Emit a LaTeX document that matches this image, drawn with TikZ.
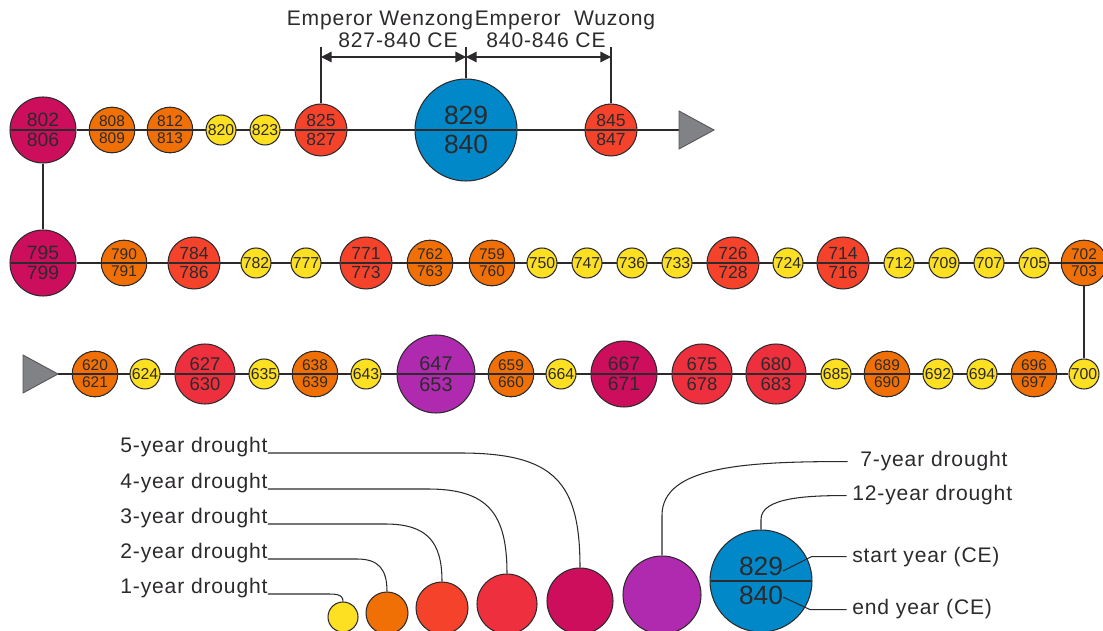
\documentclass[tikz,border=0pt]{standalone}
\usepackage{fontspec}
\setmainfont{Liberation Sans}
\newfontfamily\labfont[LetterSpace=4]{Liberation Sans}
\usetikzlibrary{arrows.meta,shapes.multipart,backgrounds}

\definecolor{dyellow}{RGB}{253,224,34}
\definecolor{dorange}{RGB}{240,112,5}
\definecolor{dredor}{RGB}{245,67,43}
\definecolor{dred}{RGB}{238,48,62}
\definecolor{dcrimson}{RGB}{204,14,93}
\definecolor{dpurple}{RGB}{176,42,176}
\definecolor{dblue}{RGB}{0,136,200}
\definecolor{tgray}{RGB}{128,130,134}
\definecolor{ink}{RGB}{45,42,45}

\tikzset{
  yr/.style={circle, draw=ink, line width=0.6pt, inner sep=0pt, text=ink},
  yrs/.style={circle split, draw=ink, line width=0.6pt, inner sep=1.5pt, text=ink},
  s1/.style={minimum size=0.6cm},
  s2/.style={minimum size=0.84cm},
  s3/.style={minimum size=1.04cm},
  s4/.style={minimum size=1.2cm},
  s5/.style={minimum size=1.32cm},
  s7/.style={minimum size=1.56cm},
  s12/.style={minimum size=2.04cm},
  d1/.style={yr, fill=dyellow, s1, font=\fontsize{9}{9}\selectfont},
  d2/.style={yrs, fill=dorange, s2, font=\fontsize{8.8}{9}\selectfont},
  d3/.style={yrs, fill=dredor, s3, font=\fontsize{10}{10}\selectfont},
  d4/.style={yrs, fill=dred, s4, font=\fontsize{10.5}{11}\selectfont},
  d5/.style={yrs, fill=dcrimson, s5, font=\fontsize{11}{11}\selectfont},
  d7/.style={yrs, fill=dpurple, s7, font=\fontsize{11.3}{12}\selectfont},
  d12/.style={yrs, fill=dblue, s12, inner sep=2.4pt, font=\fontsize{15}{15}\selectfont},
  tline/.style={draw=ink, line width=0.75pt},
  lead/.style={draw=ink, line width=0.6pt},
  lab/.style={inner sep=0pt, text=ink, font=\labfont\fontsize{12}{13}\selectfont},
  reign/.style={ink, line width=0.7pt, {Triangle[length=6pt,width=6pt]}-{Triangle[length=6pt,width=6pt]}},
  tri/.style={fill=tgray, draw=ink!80, line width=0.5pt},
}

\begin{document}
\begin{tikzpicture}[x=0.02cm, y=-0.02cm]
    \useasboundingbox (0,0) rectangle (1103,631);

    % Top row (802 -> 847)
    \node[d5] (c802) at (43,130) {802 \nodepart{lower} 806};
    \node[d2] (c808) at (112,130) {808 \nodepart{lower} 809};
    \node[d2] (c812) at (170,130) {812 \nodepart{lower} 813};
    \node[d1] (c820) at (221,130) {820};
    \node[d1] (c823) at (265,130) {823};
    \node[d3] (c825) at (321,130) {825 \nodepart{lower} 827};
    \node[d12] (c829) at (466,130) {829 \nodepart{lower} 840};
    \node[d3] (c845) at (611,130) {845 \nodepart{lower} 847};
    \coordinate (tri1) at (679,130);
    \filldraw[tri] (tri1) -- ++(0,-19) -- ++(35,19) -- ++(-35,19) -- cycle;

    % Middle row (799 -> 702)
    \node[d5] (c795) at (43,263) {795 \nodepart{lower} 799};
    \node[d2] (c790) at (124,263) {790 \nodepart{lower} 791};
    \node[d3] (c784) at (194,263) {784 \nodepart{lower} 786};
    \node[d1] (c782) at (256,263) {782};
    \node[d1] (c777) at (306,263) {777};
    \node[d3] (c771) at (366,263) {771 \nodepart{lower} 773};
    \node[d2] (c762) at (430,263) {762 \nodepart{lower} 763};
    \node[d2] (c759) at (492,263) {759 \nodepart{lower} 760};
    \node[d1] (c750) at (542,263) {750};
    \node[d1] (c747) at (587,263) {747};
    \node[d1] (c736) at (632,263) {736};
    \node[d1] (c733) at (677,263) {733};
    \node[d3] (c726) at (733,263) {726 \nodepart{lower} 728};
    \node[d1] (c724) at (788,263) {724};
    \node[d3] (c714) at (843,263) {714 \nodepart{lower} 716};
    \node[d1] (c712) at (899,263) {712};
    \node[d1] (c709) at (944,263) {709};
    \node[d1] (c707) at (989,263) {707};
    \node[d1] (c705) at (1034,263) {705};
    \node[d2] (c702) at (1084,263) {702 \nodepart{lower} 703};

    % Bottom row (620 -> 700)
    \coordinate (tri2) at (58,374);
    \filldraw[tri] (tri2) -- ++(-35,-19) -- ++(0,38) -- cycle;
    \node[d2] (c620) at (95,374) {620 \nodepart{lower} 621};
    \node[d1] (c624) at (145,374) {624};
    \node[d4] (c627) at (205,374) {627 \nodepart{lower} 630};
    \node[d1] (c635) at (264,374) {635};
    \node[d2] (c638) at (315,374) {638 \nodepart{lower} 639};
    \node[d1] (c643) at (366,374) {643};
    \node[d7] (c647) at (436,374) {647 \nodepart{lower} 653};
    \node[d2] (c659) at (511,374) {659 \nodepart{lower} 660};
    \node[d1] (c664) at (561,374) {664};
    \node[d5] (c667) at (624,374) {667 \nodepart{lower} 671};
    \node[d4] (c675) at (702,374) {675 \nodepart{lower} 678};
    \node[d4] (c680) at (776,374) {680 \nodepart{lower} 683};
    \node[d1] (c685) at (836,374) {685};
    \node[d2] (c689) at (887,374) {689 \nodepart{lower} 690};
    \node[d1] (c692) at (938,374) {692};
    \node[d1] (c694) at (982,374) {694};
    \node[d2] (c696) at (1034,374) {696 \nodepart{lower} 697};
    \node[d1] (c700) at (1084,374) {700};

    % Time lines
    \begin{scope}[on background layer]
        \draw[tline] (c802) -- (tri1);
        \draw[tline] (c802) -- (c795);
        \draw[tline] (c795) -- (c702);
        \draw[tline] (c702) -- (c700);
        \draw[tline] (tri2) -- (c700);
    \end{scope}

    % Reigns
    \node[lab, anchor=base] (wz) at (380,26) {Emperor Wenzong};
    \node[lab, anchor=base] (wzy) at (398,48) {827-840 CE};
    \node[lab, anchor=base] (wu) at (565,26) {Emperor\ \ Wuzong};
    \node[lab, anchor=base] (wuy) at (546,48) {840-846 CE};
    \coordinate (wzL) at (321,47);
    \coordinate (wzM) at (466,47);
    \coordinate (wzR) at (611,47);
    \coordinate (aL) at (321,57);
    \coordinate (aM) at (466,57);
    \coordinate (aR) at (611,57);
    \draw[lead] (c825.north) -- (wzL);
    \draw[lead] (c829.north) -- (wzM);
    \draw[lead] (c845.north) -- (wzR);
    \draw[reign] (aL) -- (aM);
    \draw[reign] (aM) -- (aR);

    % Key circles
    \node[yr, fill=dyellow, s1] (k1) at (343,617) {};
    \node[yr, fill=dorange, s2] (k2) at (387,613) {};
    \node[yr, fill=dredor, s3] (k3) at (442,608) {};
    \node[yr, fill=dred, s4] (k4) at (507,604) {};
    \node[yr, fill=dcrimson, s5] (k5) at (580,601) {};
    \node[yr, fill=dpurple, s7] (k7) at (662,595) {};
    \node[d12] (k12) at (761,581) {829 \nodepart{lower} 840};

    % Key labels
    \node[lab, anchor=base west] (l5) at (120,453) {5-year drought};
    \node[lab, anchor=base west] (l4) at (120,489) {4-year drought};
    \node[lab, anchor=base west] (l3) at (120,524) {3-year drought};
    \node[lab, anchor=base west] (l2) at (120,559) {2-year drought};
    \node[lab, anchor=base west] (l1) at (120,594) {1-year drought};
    \node[lab, anchor=base west] (l7) at (860,467) {7-year drought};
    \node[lab, anchor=base west] (l12) at (852,501) {12-year drought};
    \node[lab, anchor=base west] (ls) at (852,562) {start year (CE)};
    \node[lab, anchor=base west] (le) at (852,615) {end year (CE)};

    % Key leaders
    \draw[lead] (l5.base east) -- ++(192,0) .. controls +(95,0) and +(0,-85) .. (k5.north);
    \draw[lead] (l4.base east) -- ++(160,0) .. controls +(60,0) and +(0,-60) .. (k4.north);
    \draw[lead] (l3.base east) -- ++(117,0) .. controls +(42,0) and +(0,-40) .. (k3.north);
    \draw[lead] (l2.base east) -- ++(89,0) .. controls +(22,0) and +(0,-22) .. (k2.north);
    \draw[lead] (l1.base east) -- ++(55,0) .. controls +(12,0) and +(0,-8) .. (k1.north);
    \draw[lead] (k7.north) -- ++(0,-40) .. controls +(0,-50) and +(-100,0) .. ([xshift=-7pt]l7.west);
    \draw[lead] (k12.north) -- ++(0,-10) .. controls +(0,-22) and +(-40,0) .. ([xshift=-3pt]l12.west);
    \coordinate (sy) at (783,571);
    \coordinate (ey) at (783,597);
    \draw[lead] (sy) -- ([xshift=-23pt]ls.west) -- ([xshift=-3pt]ls.west);
    \draw[lead] (ey) -- ([xshift=-24pt]le.west) -- ([xshift=-3pt]le.west);
\end{tikzpicture}
\end{document}
